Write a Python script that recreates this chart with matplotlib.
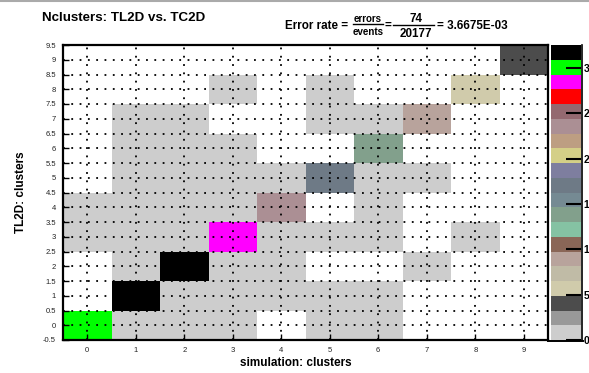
import numpy as np
import matplotlib
matplotlib.use("Agg")
import matplotlib.pyplot as plt
from matplotlib.colors import ListedColormap, Normalize
from matplotlib.lines import Line2D

# ---- data ----
x_bins = [0, 1, 2, 3, 4, 5, 6, 7, 8, 9]          # simulation: clusters
y_bins = [0, 1, 2, 3, 4, 5, 6, 7, 8, 9]          # TL2D: clusters
# counts[y][x]
counts = [
    [3060, 3, 2, 1, 0, 1, 1, 0, 0, 0],
    [0, 3230, 4, 3, 1, 1, 1, 0, 0, 0],
    [0, 4, 3256, 3, 1, 0, 0, 1, 0, 0],
    [2, 1, 4, 2900, 5, 2, 1, 0, 1, 0],
    [2, 1, 1, 3, 2420, 0, 1, 0, 0, 0],
    [0, 1, 1, 1, 4, 1770, 3, 1, 0, 0],
    [0, 2, 2, 1, 0, 0, 1440, 0, 0, 0],
    [0, 1, 1, 0, 0, 1, 2, 950, 0, 0],
    [0, 0, 0, 1, 0, 1, 0, 0, 620, 0],
    [0, 0, 0, 0, 0, 0, 0, 0, 0, 457],
]
y_tick_values = [-0.5 + 0.5 * i for i in range(21)]
z_ticks = [0, 500, 1000, 1500, 2000, 2500, 3000]
n_errors = 74
n_events = 20177

palette = ['#cdcdcd', '#999999', '#4c4c4c', '#d0cbab', '#c0bba6', '#b8a39c',
           '#8a6657', '#85c2a3', '#82a08c', '#758a93', '#6e7a86', '#7e7e9f',
           '#d4cf87', '#bd9e82', '#ab8f94', '#946970', '#ff0000', '#ff00ff',
           '#00ff00', '#000000']

W, H = 589, 373
fig = plt.figure(figsize=(W / 100, H / 100), dpi=100)
plt.rcParams['font.family'] = ['Liberation Sans', 'DejaVu Sans']

def fx(px):
    return px / W

def fy(py):
    return 1 - py / H

L, R, T, B = 63, 548, 45, 340
ax = fig.add_axes([fx(L), fy(B), fx(R) - fx(L), fy(T) - fy(B)])

z = np.ma.masked_less_equal(np.array(counts, dtype=float), 0)
cmap = ListedColormap(palette)
cmap.set_bad('white')
norm = Normalize(vmin=0, vmax=z.max())
xe = np.arange(len(x_bins) + 1) - 0.5
ye = np.arange(len(y_bins) + 1) - 0.5
mesh = ax.pcolormesh(xe, ye, z, cmap=cmap, norm=norm, zorder=1)

ax.set_xlim(-0.5, 9.5)
ax.set_ylim(-0.5, 9.5)
ax.set_xticks(x_bins)
ax.set_xticklabels([str(v) for v in x_bins])
ax.set_yticks(y_tick_values)
ax.set_yticklabels(['%g' % v for v in y_tick_values])
ax.tick_params(axis='both', direction='in', length=4, width=1, labelsize=5.5,
               labelcolor='#222222', pad=5)
ax.grid(True, color='black', linewidth=1.3, linestyle=(0, (1, 3.6)), zorder=2)
for s in ax.spines.values():
    s.set_linewidth(1.6)
    s.set_color('black')

ax.set_xlabel('simulation: clusters', fontsize=8.5, fontweight='bold')
ax.set_ylabel('TL2D: clusters', fontsize=8.5, fontweight='bold')
ax.xaxis.set_label_coords((296 - L) / (R - L), -(357 - B) / (B - T))
ax.yaxis.set_label_coords(-(L - 27) / (R - L), (B - 192) / (B - T))

# colour bar
cax = fig.add_axes([fx(551), fy(B), fx(581) - fx(551), fy(T) - fy(B)])
cb = fig.colorbar(mesh, cax=cax, ticks=z_ticks)
cb.outline.set_visible(False)
cax.tick_params(axis='y', direction='in', length=11, width=1.5, labelsize=7.5,
                pad=2, right=True, left=False)
cax.set_yticklabels([str(v) for v in z_ticks], fontweight='bold')
fig.add_artist(Line2D([fx(582), fx(582)], [fy(B), fy(T)], color='black', lw=1.2,
                      transform=fig.transFigure))
fig.add_artist(Line2D([fx(548), fx(583)], [fy(B + 0.5), fy(B + 0.5)], color='black',
                      lw=1.4, transform=fig.transFigure))

# top border line
fig.add_artist(Line2D([0, 1], [fy(0.8), fy(0.8)], color='#aaaaaa', lw=1.5,
                      transform=fig.transFigure))

# title
fig.text(fx(42), fy(21), 'Nclusters: TL2D vs. TC2D', fontsize=9.6,
         fontweight='bold', ha='left', va='baseline')

# error rate
fig.text(fx(285), fy(29), 'Error rate =', fontsize=8.4, fontweight='bold',
         ha='left', va='baseline')
fig.text(fx(368), fy(22), 'errors', fontsize=7, fontweight='bold',
         ha='center', va='baseline')
fig.text(fx(368), fy(35), 'events', fontsize=7, fontweight='bold',
         ha='center', va='baseline')
fig.add_artist(Line2D([fx(353), fx(383)], [fy(24), fy(24)], color='black', lw=1.0,
                      transform=fig.transFigure))
fig.text(fx(385), fy(29), '=', fontsize=8.4, fontweight='bold',
         ha='left', va='baseline')
fig.text(fx(416), fy(22), str(n_errors), fontsize=8.4, fontweight='bold',
         ha='center', va='baseline')
fig.text(fx(416), fy(37), str(n_events), fontsize=8.4, fontweight='bold',
         ha='center', va='baseline')
fig.add_artist(Line2D([fx(393), fx(434)], [fy(24.5), fy(24.5)], color='black', lw=1.0,
                      transform=fig.transFigure))
fig.text(fx(437), fy(29), '= %.4E' % (n_errors / n_events), fontsize=8.4,
         fontweight='bold', ha='left', va='baseline')

fig.savefig('out.png', dpi=100)
